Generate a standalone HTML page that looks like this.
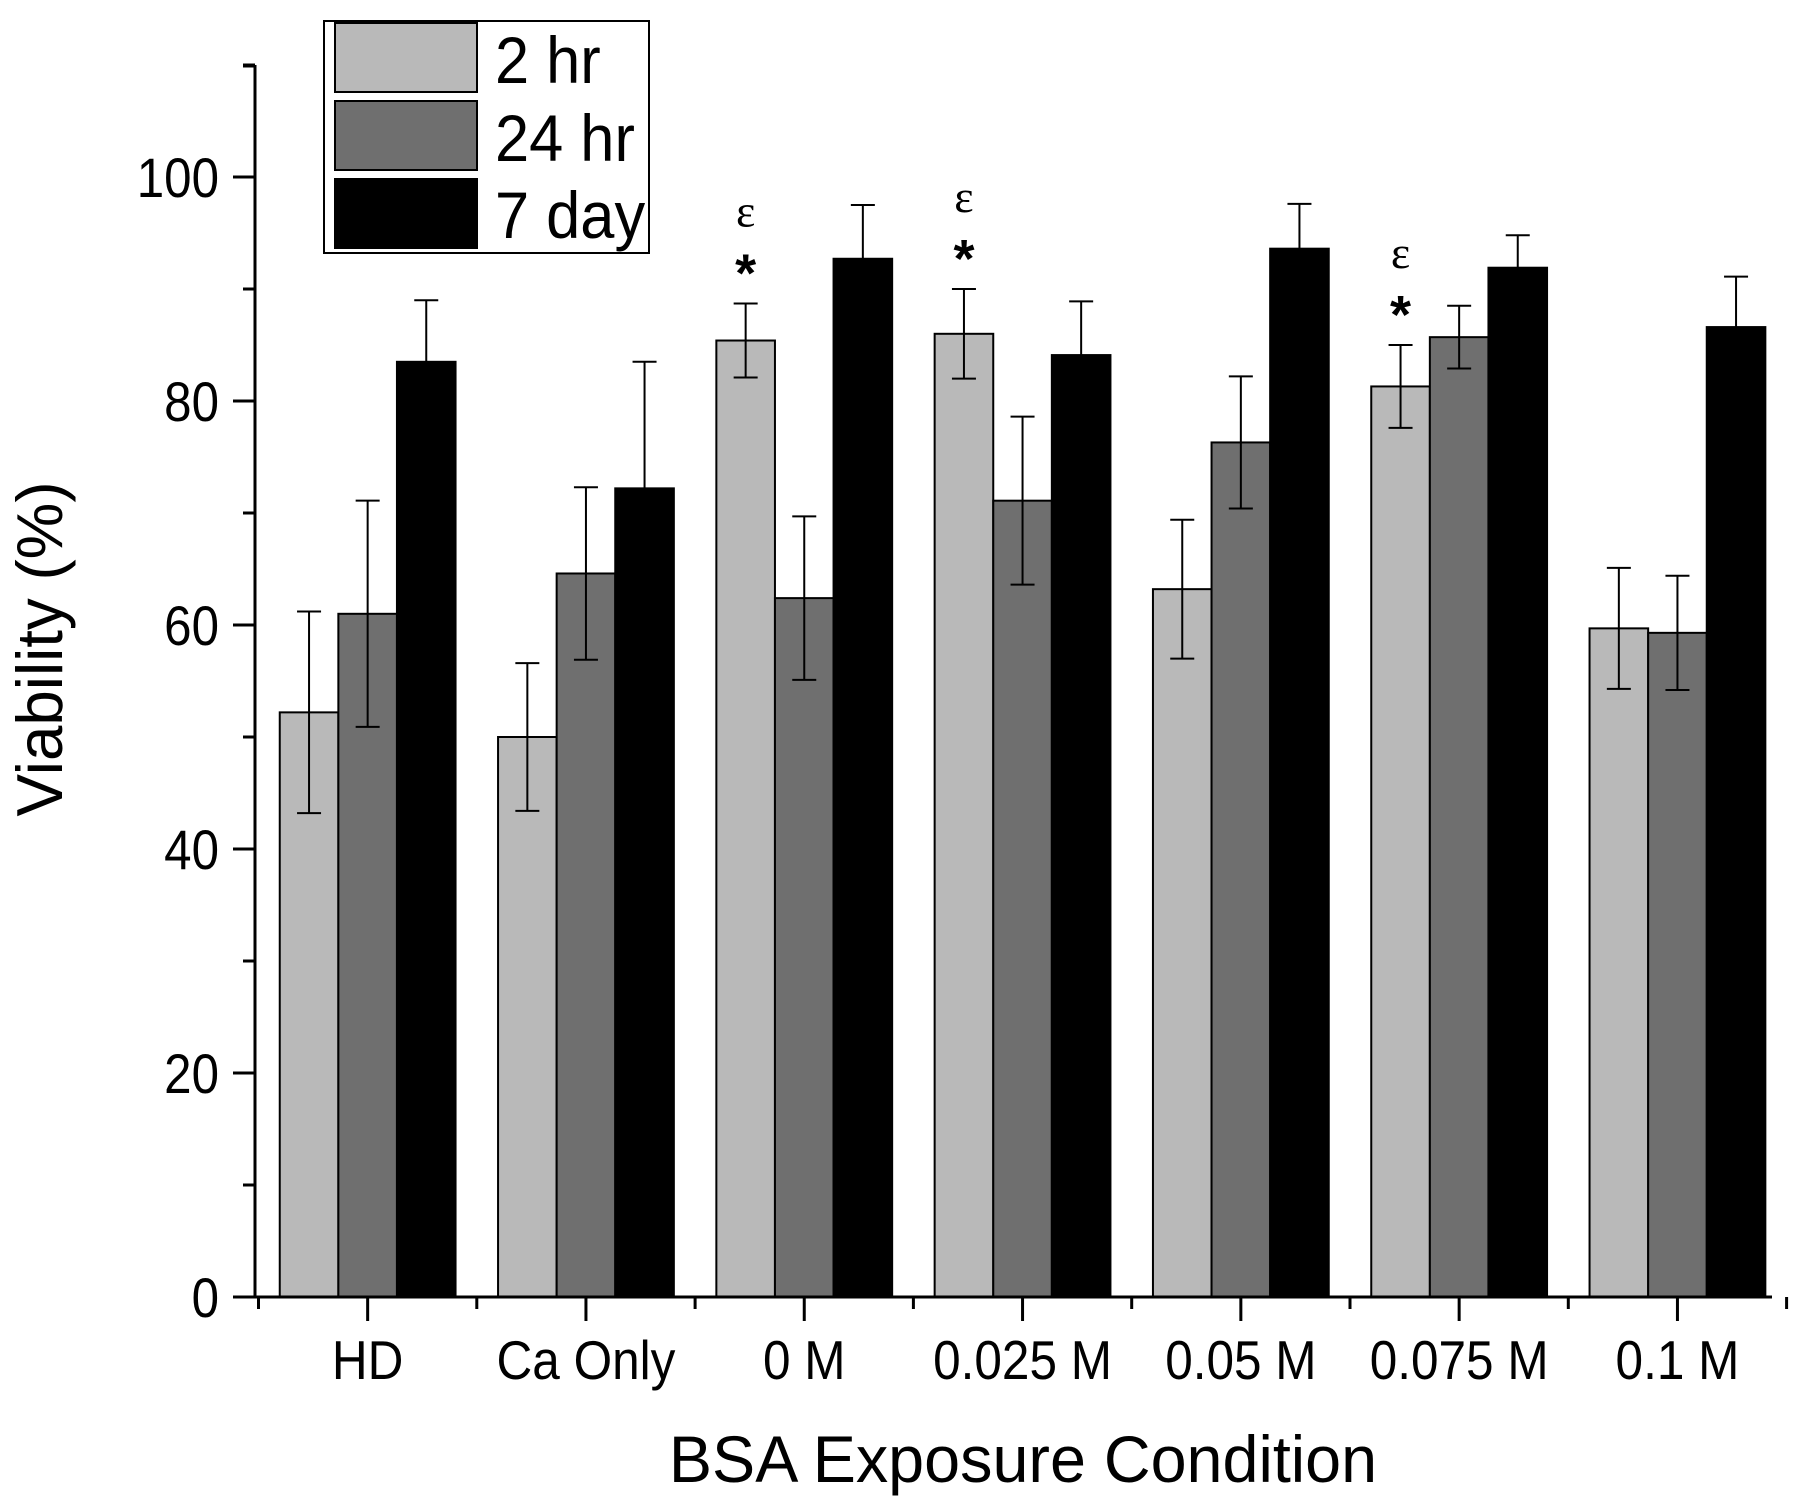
<!DOCTYPE html>
<html><head><meta charset="utf-8"><style>
html,body{margin:0;padding:0;background:#fff;}
svg{display:block;font-family:"Liberation Sans",Arial,sans-serif;}
</style></head><body>
<svg id="chart" width="1800" height="1502" viewBox="0 0 1800 1502" xmlns="http://www.w3.org/2000/svg">
<g id="bars"></g>
<g id="axes"></g>
<text x="0" y="0" transform="translate(62,649) rotate(-90) scale(0.98,1)" text-anchor="middle" font-size="65">Viability (%)</text>
<text x="0" y="0" transform="translate(1023,1482) scale(0.98,1)" text-anchor="middle" font-size="66">BSA Exposure Condition</text>
<g>
<rect x="324" y="21" width="325" height="232" fill="#fff" stroke="#000" stroke-width="2"/>
<rect x="335" y="23" width="142" height="69" fill="#b9b9b9" stroke="#000" stroke-width="2"/>
<text transform="translate(495,83) scale(0.93,1)" x="0" y="0" font-size="66">2 hr</text>
<rect x="335" y="101" width="142" height="69" fill="#6f6f6f" stroke="#000" stroke-width="2"/>
<text transform="translate(495,161) scale(0.93,1)" x="0" y="0" font-size="66">24 hr</text>
<rect x="335" y="179" width="142" height="69" fill="#000" stroke="#000" stroke-width="2"/>
<text transform="translate(495,238) scale(0.93,1)" x="0" y="0" font-size="66">7 day</text>
</g>
</svg>
<script>
const categories = ["HD","Ca Only","0 M","0.025 M","0.05 M","0.075 M","0.1 M"];
const series2hr = [52.2,50.0,85.4,86.0,63.2,81.3,59.7];
const err2hr = [9.0,6.6,3.3,4.0,6.2,3.7,5.4];
const series24hr = [61.0,64.6,62.4,71.1,76.3,85.7,59.3];
const err24hr = [10.1,7.7,7.3,7.5,5.9,2.8,5.1];
const series7day = [83.5,72.2,92.7,84.1,93.6,91.9,86.6];
const err7day = [5.5,11.3,4.8,4.8,4.0,2.9,4.5];
const yTicks = [0,20,40,60,80,100];
const marked = [false,false,true,true,false,true,false];

const NS="http://www.w3.org/2000/svg";
const y0=1297, y100=177, axX=255, xEnd=1772, bandStart=258.5, band=218.3, bw=58.6;
const Y=v=>y0-(y0-y100)*v/100;
const Xc=i=>bandStart+band*(i+0.5);
function mk(tag,attrs,parent){const e=document.createElementNS(NS,tag);for(const k in attrs)e.setAttribute(k,attrs[k]);parent.appendChild(e);return e;}
const barsG=document.getElementById('bars'), axG=document.getElementById('axes');
const seriesList=[[series2hr,err2hr,"#b9b9b9","2hr"],[series24hr,err24hr,"#6f6f6f","24hr"],[series7day,err7day,"#000","7day"]];
categories.forEach((c,i)=>{
  seriesList.forEach((s,j)=>{
    const v=s[0][i], e=s[1][i];
    const x=Xc(i)+(j-1.5)*bw;
    const r=mk('rect',{x:x,y:Y(v),width:bw,height:y0-Y(v),fill:s[2],stroke:"#000","stroke-width":2},barsG);
    
    
    const cx=x+bw/2;
    const g=mk('g',{stroke:"#000","stroke-width":2},barsG);
    
    
    mk('line',{x1:cx,x2:cx,y1:Y(v+e),y2:Y(v-e)},g);
    mk('line',{x1:cx-12,x2:cx+12,y1:Y(v+e),y2:Y(v+e)},g);
    mk('line',{x1:cx-12,x2:cx+12,y1:Y(v-e),y2:Y(v-e)},g);
  });
  if(marked[i]){
    const cx=Xc(i)-bw, top=Y(series2hr[i]+err2hr[i]);
    const st=mk('text',{x:cx,y:top-12,"text-anchor":"middle","font-size":54,"font-weight":"bold"},barsG);
    st.textContent='*';
    
    
    const ep=mk('text',{x:cx,y:top-77,"text-anchor":"middle","font-size":46,"font-family":"Liberation Serif, serif"},barsG);
    ep.textContent='ε';
    
    
  }
  const lab=mk('text',{x:0,y:0,transform:'translate('+Xc(i)+',1379) scale(0.9,1)',"text-anchor":"middle","font-size":55},axG);
  lab.textContent=c;
  
  
  mk('line',{x1:Xc(i),x2:Xc(i),y1:y0,y2:y0+24,stroke:"#000","stroke-width":3},axG);
});
for(let i=0;i<=categories.length;i++){
  const x=bandStart+band*i;
  mk('line',{x1:x,x2:x,y1:y0,y2:y0+12,stroke:"#000","stroke-width":3},axG);
}
const yax=mk('line',{x1:axX,x2:axX,y1:65,y2:y0+1.5,stroke:"#000","stroke-width":3},axG);


const xax=mk('line',{x1:axX-1.5,x2:xEnd,y1:y0,y2:y0,stroke:"#000","stroke-width":3},axG);


for(let v=10;v<=110;v+=20){mk('line',{x1:axX-12,x2:axX,y1:Y(v),y2:Y(v),stroke:"#000","stroke-width":3},axG);}
mk('line',{x1:axX-12,x2:axX,y1:66,y2:66,stroke:"#000","stroke-width":3},axG);
yTicks.forEach(t=>{
  mk('line',{x1:axX-22,x2:axX,y1:Y(t),y2:Y(t),stroke:"#000","stroke-width":3},axG);
  const tl=mk('text',{x:0,y:0,transform:'translate('+(axX-36)+','+(Y(t)+20)+') scale(0.88,1)',"text-anchor":"end","font-size":56},axG);
  tl.textContent=t;
  
  
});
</script>
</body></html>
